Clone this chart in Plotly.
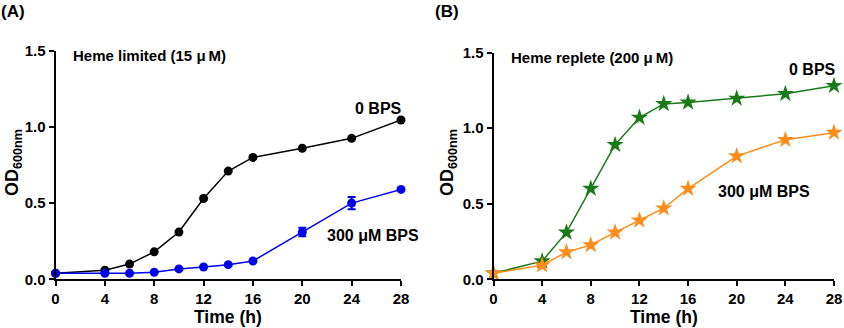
import plotly.graph_objects as go

W, H = 844, 328

time = [0, 4, 6, 8, 10, 12, 14, 16, 20, 24, 28]
a_zero_bps = [0.04, 0.06, 0.10, 0.18, 0.31, 0.53, 0.71, 0.80, 0.86, 0.925, 1.045]
a_300_bps = [0.04, 0.04, 0.04, 0.046, 0.068, 0.081, 0.096, 0.12, 0.31, 0.50, 0.59]
a_300_err = [0, 0, 0, 0, 0, 0, 0, 0, 0.028, 0.04, 0]
b_zero_bps = [0.04, 0.12, 0.31, 0.60, 0.89, 1.07, 1.16, 1.17, 1.196, 1.227, 1.28]
b_300_bps = [0.04, 0.093, 0.18, 0.227, 0.31, 0.39, 0.47, 0.60, 0.815, 0.923, 0.97]

x_ticks = [0, 4, 8, 12, 16, 20, 24, 28]
y_ticks = [0.0, 0.5, 1.0, 1.5]

FONT = "Liberation Sans, Arial, sans-serif"

fig = go.Figure()

fig.add_trace(go.Scatter(x=time, y=a_zero_bps, mode="lines+markers",
                         line=dict(color="black", width=1.5),
                         marker=dict(symbol="circle", size=9, color="black"),
                         xaxis="x", yaxis="y", cliponaxis=False, showlegend=False))
fig.add_trace(go.Scatter(x=time, y=a_300_bps, mode="lines+markers",
                         line=dict(color="#0000ee", width=1.5),
                         marker=dict(symbol="circle", size=9, color="#0000ee"),
                         error_y=dict(type="data", array=a_300_err, visible=True,
                                      color="#0000ee", thickness=2, width=4),
                         xaxis="x", yaxis="y", cliponaxis=False, showlegend=False))
fig.add_trace(go.Scatter(x=time, y=b_zero_bps, mode="lines+markers",
                         line=dict(color="#1a7a1a", width=1.5),
                         marker=dict(symbol="star", size=13, color="#1a7a1a"),
                         xaxis="x2", yaxis="y2", cliponaxis=False, showlegend=False))
fig.add_trace(go.Scatter(x=time, y=b_300_bps, mode="lines+markers",
                         line=dict(color="#ff8c1a", width=1.5),
                         marker=dict(symbol="star", size=13, color="#ff8c1a"),
                         xaxis="x2", yaxis="y2", cliponaxis=False, showlegend=False))

y_bottom = (H - 279.3) / H

def xaxis(dom, anchor):
    return dict(domain=dom, range=[0, 28], anchor=anchor, showline=True,
                linecolor="black", linewidth=2, ticks="outside", ticklen=5,
                tickwidth=2, tickcolor="black", tickvals=x_ticks,
                tickfont=dict(family=FONT, size=15, color="black", weight="bold"),
                showgrid=False, zeroline=False, fixedrange=True, automargin=False)

def yaxis(dom, anchor):
    return dict(domain=dom, range=[0, 1.5], anchor=anchor, showline=True,
                linecolor="black", linewidth=2, ticks="outside", ticklen=5,
                tickwidth=2, tickcolor="black", tickvals=y_ticks, tickformat=".1f",
                tickfont=dict(family=FONT, size=15, color="black", weight="bold"),
                showgrid=False, zeroline=False, fixedrange=True, automargin=False)

fig.update_layout(
    width=W, height=H,
    margin=dict(l=0, r=0, t=0, b=0, pad=0, autoexpand=False),
    paper_bgcolor="white", plot_bgcolor="white",
    xaxis=xaxis([55.5 / W, 401 / W], "y"),
    yaxis=yaxis([y_bottom, (H - 50.7) / H], "x"),
    xaxis2=xaxis([493.5 / W, 834 / W], "y2"),
    yaxis2=yaxis([y_bottom, (H - 52.5) / H], "x2"),
)

def ann(text, x, y, size, xanchor="left", angle=0):
    fig.add_annotation(text=text, x=x / W, y=1 - y / H, xref="paper", yref="paper",
                       xanchor=xanchor, yanchor="middle", showarrow=False,
                       textangle=angle, borderpad=0,
                       font=dict(family=FONT, size=size, color="black", weight="bold"))

ann("(A)", 0, 11, 17)
ann("(B)", 434, 11, 17)
ann("Heme limited (15 μ\u2009M)", 72, 55, 15)
ann("Heme replete (200 μ\u2009M)", 510, 57, 15)
ann("0 BPS", 403, 109, 16, xanchor="right")
ann("300 μM BPS", 326, 235, 16)
ann("0 BPS", 837, 70, 16, xanchor="right")
ann("300 μM BPS", 717, 191, 16)
ann("Time (h)", 228.5, 317, 17.5, xanchor="center")
ann("Time (h)", 664, 317, 17.5, xanchor="center")
ann("OD<sub>600nm</sub>", 13, 163, 18, xanchor="center", angle=-90)
ann("OD<sub>600nm</sub>", 448, 163, 18, xanchor="center", angle=-90)

fig.write_html("out.html", config={"displayModeBar": False},
               post_script="document.body.style.margin='0';document.body.style.padding='0';")
